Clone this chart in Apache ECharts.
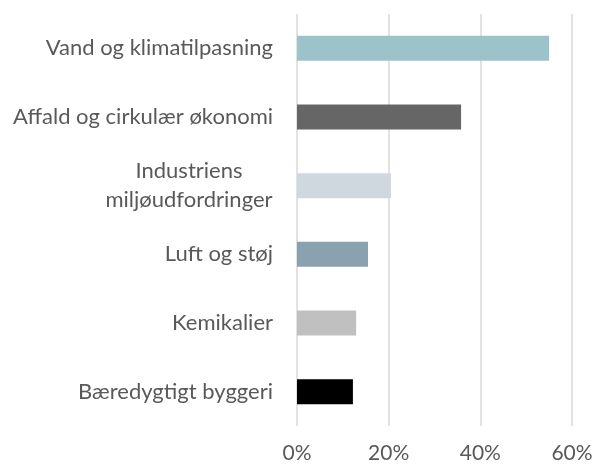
<!DOCTYPE html>
<html>
<head>
<meta charset="utf-8">
<script src="https://cdn.jsdelivr.net/npm/echarts@6/dist/echarts.min.js"></script>
<style>
  html, body { margin: 0; padding: 0; background: #fff; }
  #chart { width: 596px; height: 465px; }
</style>
</head>
<body>
<div id="chart"></div>
<script>
// Themes, listed top to bottom
const categories = [
  'Vand og klimatilpasning',
  'Affald og cirkulær økonomi',
  'Industriens\nmiljøudfordringer',
  'Luft og støj',
  'Kemikalier',
  'Bæredygtigt byggeri'
];
// Share of responses, percent
const shares = [55.0, 35.8, 20.5, 15.5, 12.9, 12.2];
const barColors = ['#9DC3CA', '#666666', '#D0D8DF', '#8AA1AF', '#C0C0C0', '#000000'];
const xTicks = [0, 20, 40, 60];

const FONT = 'Lato';
const CAT_SIZE = 22;
const TICK_SIZE = 21;

// Widest line of a multi-line label, so its lines can be centred on each other
function widestLine(text) {
  const ctx = document.createElement('canvas').getContext('2d');
  ctx.font = CAT_SIZE + 'px ' + FONT;
  return Math.ceil(Math.max(...text.split('\n').map(s => ctx.measureText(s).width)));
}

function draw() {
  const chart = echarts.init(document.getElementById('chart'), null, { renderer: 'canvas' });
  const multi = categories.find(c => c.includes('\n'));
  const boxWidth = multi ? widestLine(multi) : 0;

  chart.setOption({
    animation: false,
    grid: { left: 297, right: 24, top: 14, bottom: 39, containLabel: false },
    xAxis: {
      type: 'value',
      min: xTicks[0],
      max: xTicks[xTicks.length - 1],
      interval: 20,
      axisLine: { show: false },
      axisTick: { show: false },
      splitLine: { show: true, lineStyle: { color: '#D9D9D9', width: 1.5 } },
      axisLabel: {
        formatter: v => v + '%',
        color: '#595959',
        fontFamily: FONT,
        fontSize: TICK_SIZE,
        margin: 17
      }
    },
    yAxis: {
      type: 'category',
      inverse: true,
      data: categories,
      axisLine: { show: false },
      axisTick: { show: false },
      splitLine: { show: false },
      axisLabel: {
        color: '#595959',
        fontFamily: FONT,
        fontSize: CAT_SIZE,
        margin: 24,
        lineHeight: 29,
        formatter: v => v.includes('\n')
          ? v.split('\n').map(s => '{c|' + s + '}').join('\n')
          : v,
        rich: {
          c: { width: boxWidth, align: 'center', color: '#595959', fontFamily: FONT, fontSize: CAT_SIZE, lineHeight: 29 }
        }
      }
    },
    series: [{
      type: 'bar',
      data: shares.map((v, i) => ({ value: v, itemStyle: { color: barColors[i] } })),
      barWidth: '36.5%'
    }]
  });
}

if (document.fonts && document.fonts.load) {
  document.fonts.load(CAT_SIZE + 'px ' + FONT).then(draw, draw);
} else {
  draw();
}
</script>
</body>
</html>
